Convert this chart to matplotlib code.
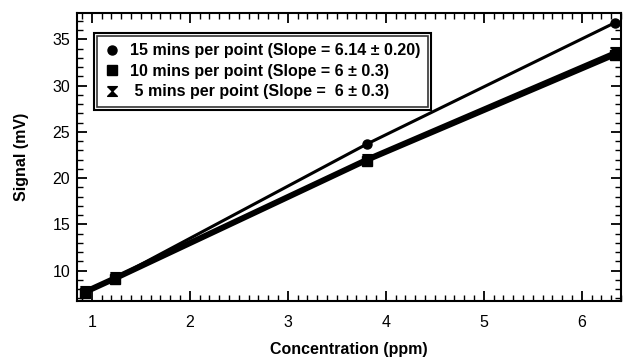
import matplotlib.pyplot as plt
from matplotlib.patches import Rectangle
from matplotlib.ticker import MultipleLocator

plt.rcParams['font.family'] = ['Liberation Sans', 'DejaVu Sans']

# concentration (ppm) and signal (mV)
conc = [0.93, 1.24, 3.81, 6.34]
sig_15 = [7.7, 9.2, 23.7, 36.8]
sig_10 = [7.6, 9.1, 21.9, 33.3]
sig_5 = [7.8, 9.3, 22.1, 33.6]

labels = ['15 mins per point (Slope = 6.14 \u00b1 0.20)',
          '10 mins per point (Slope = 6 \u00b1 0.3)',
          ' 5 mins per point (Slope =  6 \u00b1 0.3)']

hourglass = [(-1, 1), (1, 1), (0, 0), (1, -1), (-1, -1), (0, 0), (-1, 1)]

fig = plt.figure(figsize=(6.23, 3.6), dpi=100)
ax = fig.add_axes([0.1236, 0.1639, 0.8732, 0.8000])

ax.plot(conc, sig_15, color='black', lw=2.2, marker='o', ms=6.5, label=labels[0])
ax.plot(conc, sig_10, color='black', lw=3.2, marker='s', ms=7, label=labels[1])
ax.plot(conc, sig_5, color='black', lw=3.0, marker=hourglass, ms=7, label=labels[2])

ax.set_xlim(0.85, 6.40)
ax.set_ylim(6.73, 37.84)
ax.xaxis.set_major_locator(MultipleLocator(1))
ax.xaxis.set_minor_locator(MultipleLocator(0.1))
ax.yaxis.set_major_locator(MultipleLocator(5))
ax.yaxis.set_minor_locator(MultipleLocator(1))
ax.set_yticks([10, 15, 20, 25, 30, 35])
ax.tick_params(which='both', direction='in', top=True, right=True, labelsize=11.5)
ax.tick_params(which='major', length=7, width=1.3)
ax.tick_params(which='minor', length=4, width=1.0)
ax.tick_params(axis='x', pad=10)
ax.tick_params(axis='y', pad=5)
for s in ax.spines.values():
    s.set_linewidth(1.5)

ax.set_xlabel('Concentration (ppm)', fontsize=11.5, fontweight='bold', labelpad=9)
ax.set_ylabel('Signal (mV)', fontsize=11.5, fontweight='bold', labelpad=17)

leg = ax.legend(loc='upper left', bbox_to_anchor=(0.022, 0.948), frameon=True,
                fancybox=False, edgecolor='black', borderpad=0.45,
                handlelength=1.0, handletextpad=0.65, labelspacing=0.35,
                prop={'weight': 'bold', 'size': 11.5})
leg.get_frame().set_linewidth(1.2)
for h in leg.legend_handles:
    h.set_linestyle('none')

# second, outer frame around the legend
fig.canvas.draw()
bb = leg.get_window_extent().transformed(fig.transFigure.inverted())
dx, dy = 3 / 623, 3 / 360
fig.add_artist(Rectangle((bb.x0 - dx, bb.y0 - dy), bb.width + 2 * dx, bb.height + 2 * dy,
                         transform=fig.transFigure, fill=False, edgecolor='black', lw=1.5))

fig.savefig('out.png', dpi=100)
